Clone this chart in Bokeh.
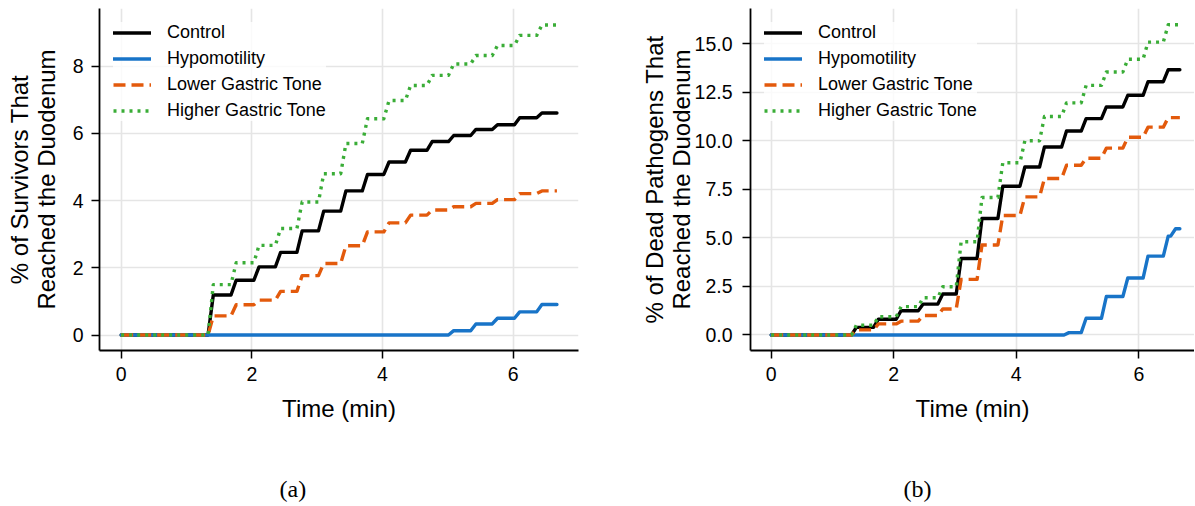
from bokeh.plotting import figure
from bokeh.layouts import row
from bokeh.models import FixedTicker, Legend, LegendItem, Range1d, Title
from bokeh.embed import file_html
from bokeh.resources import INLINE

# ---------------- data ----------------
T_END = 6.67          # last sample time (min)
RAMP = 0.08           # duration of each rise (min)

SERIES_NAMES = ["Control", "Hypomotility", "Lower Gastric Tone", "Higher Gastric Tone"]

# panel (a): % of survivors that reached the duodenum
STEP_TIMES_A = [1.37, 1.72, 2.07, 2.40, 2.73, 3.06, 3.40, 3.73,
                4.06, 4.39, 4.72, 5.05, 5.39, 5.72, 6.06, 6.40]
A_CONTROL = [1.19, 1.63, 2.03, 2.46, 3.10, 3.69, 4.29, 4.78,
             5.15, 5.50, 5.76, 5.94, 6.12, 6.26, 6.47, 6.61]
A_HYPO = [0.0, 0.0, 0.0, 0.0, 0.0, 0.0, 0.0, 0.0,
          0.0, 0.0, 0.0, 0.13, 0.33, 0.50, 0.69, 0.91]
A_LOWER = [0.57, 0.90, 1.04, 1.30, 1.77, 2.13, 2.66, 3.07,
           3.34, 3.57, 3.72, 3.82, 3.92, 4.03, 4.21, 4.29]
A_HIGHER = [1.50, 2.15, 2.67, 3.17, 3.96, 4.80, 5.70, 6.44,
            6.98, 7.43, 7.73, 8.07, 8.32, 8.62, 8.92, 9.23]

# panel (b): % of dead pathogens that reached the duodenum
STEP_TIMES_B = [1.35, 1.71, 2.08, 2.44, 2.76, 3.06, 3.40, 3.74,
                4.10, 4.42, 4.78, 5.10, 5.43, 5.78, 6.11, 6.44]
B_CONTROL = [0.39, 0.81, 1.25, 1.59, 2.11, 3.94, 6.00, 7.66,
             8.65, 9.68, 10.50, 11.14, 11.74, 12.34, 13.04, 13.66]
B_HYPO_TIMES = [4.82, 5.10, 5.43, 5.78, 6.11, 6.44, 6.56]
B_HYPO = [0.12, 0.86, 1.98, 2.93, 4.06, 5.09, 5.47]
B_LOWER = [0.26, 0.57, 0.71, 1.00, 1.34, 2.86, 4.63, 6.15,
           7.11, 8.06, 8.74, 9.10, 9.62, 10.18, 10.70, 11.19]
B_HIGHER = [0.50, 0.94, 1.46, 1.92, 2.48, 4.80, 7.08, 8.87,
            10.00, 11.25, 11.95, 12.85, 13.54, 14.20, 15.08, 15.97]

XTICKS = [0, 2, 4, 6]
XTICK_LABELS = ["0", "2", "4", "6"]
YTICKS_A = [0, 2, 4, 6, 8]
YTICK_LABELS_A = ["0", "2", "4", "6", "8"]
YTICKS_B = [0, 2.5, 5, 7.5, 10, 12.5, 15]
YTICK_LABELS_B = ["0.0", "2.5", "5.0", "7.5", "10.0", "12.5", "15.0"]

XLABEL = "Time (min)"
YLABEL_A = "% of Survivors That\nReached the Duodenum"
YLABEL_B = "% of Dead Pathogens That\nReached the Duodenum"
CAPTIONS = ["(a)", "(b)"]

# ---------------- styles ----------------
COLORS = ["#000000", "#1874c8", "#e35a0c", "#3aad37"]
DASHES = ["solid", "solid", "12 6", "3 5"]
CAPS = ["round", "round", "butt", "butt"]
SANS = "Liberation Sans"
SERIF = "Liberation Serif"
FIG_H = 505
FRAME_H = 342
TOP = 8


def steps(times, levels):
    xs, ys, prev = [0.0], [0.0], 0.0
    for t, v in zip(times, levels):
        if v == prev:
            continue
        xs += [t - RAMP / 2, t + RAMP / 2]
        ys += [prev, v]
        prev = v
    xs.append(T_END)
    ys.append(prev)
    return xs, ys


def make_panel(width, border_left, border_right, xr, yr, yticks, ylabels,
               ylabel, series, caption, caption_offset, ylabel_standoff, ytick_standoff):
    p = figure(width=width, height=FIG_H, x_range=Range1d(*xr), y_range=Range1d(*yr),
               output_backend="svg", toolbar_location=None,
               min_border_left=border_left, min_border_right=border_right,
               min_border_top=TOP, min_border_bottom=FIG_H - TOP - FRAME_H)
    p.outline_line_color = None
    p.background_fill_color = "white"
    p.border_fill_color = "white"

    p.xaxis.ticker = FixedTicker(ticks=XTICKS)
    p.xaxis.major_label_overrides = {t: s for t, s in zip(XTICKS, XTICK_LABELS)}
    p.yaxis.ticker = FixedTicker(ticks=yticks)
    p.yaxis.major_label_overrides = {t: s for t, s in zip(yticks, ylabels)}

    for ax in (p.xaxis[0], p.yaxis[0]):
        ax.axis_line_color = "black"
        ax.axis_line_width = 1.8
        ax.major_tick_line_color = "black"
        ax.major_tick_line_width = 1.5
        ax.major_tick_out = 8
        ax.major_tick_in = 0
        ax.minor_tick_out = 0
        ax.minor_tick_in = 0
        ax.major_label_text_font = SANS
        ax.major_label_text_font_size = "19.5px"
        ax.major_label_text_color = "black"
        ax.axis_label_text_font = SANS
        ax.axis_label_text_font_size = "24px"
        ax.axis_label_text_font_style = "normal"
        ax.axis_label_text_color = "black"
        ax.axis_label_text_line_height = 1.0

    p.xaxis.axis_label = XLABEL
    p.xaxis.major_label_standoff = 8
    p.xaxis.axis_label_standoff = 11
    p.yaxis.axis_label = ylabel
    p.yaxis.major_label_standoff = ytick_standoff
    p.yaxis.axis_label_standoff = ylabel_standoff

    for g in (p.xgrid[0], p.ygrid[0]):
        g.grid_line_color = "#e5e5e5"
        g.grid_line_width = 1.6

    items = []
    for name, (xs, ys), color, dash, cap in zip(SERIES_NAMES, series, COLORS, DASHES, CAPS):
        r = p.line(xs, ys, line_color=color, line_width=3.4, line_dash=dash,
                   line_join="round", line_cap=cap)
        items.append(LegendItem(label=name, renderers=[r]))

    legend = Legend(items=items, location="top_left")
    legend.margin = 14
    legend.padding = 9
    legend.spacing = 5
    legend.glyph_width = 38
    legend.glyph_height = 19
    legend.label_height = 19
    legend.label_standoff = 16
    legend.label_text_font = SANS
    legend.label_text_font_size = "18px"
    legend.label_text_color = "black"
    legend.background_fill_color = "white"
    legend.background_fill_alpha = 0.8
    legend.border_line_color = None
    p.add_layout(legend)

    # empty spacer between the axis title and the caption
    spacer = Title(text=" ", standoff=45, text_font=SERIF, text_font_size="2px",
                   text_color="white")
    p.add_layout(spacer, "below")
    cap_title = Title(text=caption, align="left", offset=caption_offset, standoff=0,
                      text_font=SERIF, text_font_size="24px", text_font_style="normal",
                      text_color="black")
    p.add_layout(cap_title, "below")
    return p


series_a = [steps(STEP_TIMES_A, A_CONTROL), steps(STEP_TIMES_A, A_HYPO),
            steps(STEP_TIMES_A, A_LOWER), steps(STEP_TIMES_A, A_HIGHER)]
series_b = [steps(STEP_TIMES_B, B_CONTROL), steps(B_HYPO_TIMES, B_HYPO),
            steps(STEP_TIMES_B, B_LOWER), steps(STEP_TIMES_B, B_HIGHER)]

pa = make_panel(632, 99, 54, (-0.332, 7.0), (-0.46, 9.72), YTICKS_A, YTICK_LABELS_A,
                YLABEL_A, series_a, CAPTIONS[0], 180, 10, 8)
pb = make_panel(562, 118, 0, (-0.338, 6.909), (-0.80, 16.81), YTICKS_B, YTICK_LABELS_B,
                YLABEL_B, series_b, CAPTIONS[1], 153, -3, 10)

layout = row(pa, pb)
open("out.html", "w").write(file_html(layout, INLINE))
